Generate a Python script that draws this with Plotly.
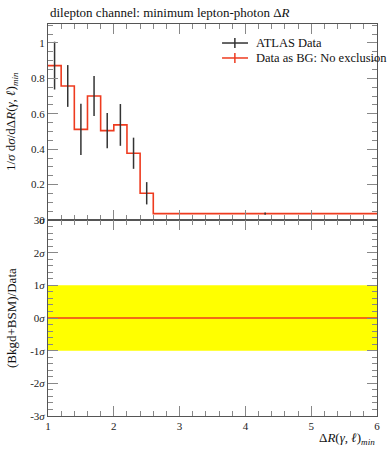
import plotly.graph_objects as go
from plotly.subplots import make_subplots

# ---- data ----
bin_edges = [1.0, 1.2, 1.4, 1.6, 1.8, 2.0, 2.2, 2.4, 2.6, 6.0]
data_vals = [0.872, 0.757, 0.512, 0.700, 0.505, 0.537, 0.377, 0.151, 0.036]
data_errs = [0.135, 0.118, 0.145, 0.113, 0.100, 0.118, 0.088, 0.063, 0.006]
bg_vals = [0.872, 0.757, 0.512, 0.700, 0.505, 0.537, 0.377, 0.151, 0.036]
band_x = [1.0, 6.0]
band_hi = [1.0, 1.0]
band_lo = [-1.0, -1.0]
ratio_vals = [0.0, 0.0]
sigma_ticks = [-3, -2, -1, 0, 1, 2, 3]
sigma_labels = ["-3<i>σ</i>", "-2<i>σ</i>", "-1<i>σ</i>", "0<i>σ</i>", "1<i>σ</i>", "2<i>σ</i>", "3<i>σ</i>"]
main_ticks = [0, 0.2, 0.4, 0.6, 0.8, 1.0]
main_labels = ["0", "0.2", "0.4", "0.6", "0.8", "1"]
x_ticks = [1, 2, 3, 4, 5, 6]
legend_names = ["ATLAS Data", "Data as BG: No exclusion"]

centers = [(bin_edges[i] + bin_edges[i + 1]) / 2 for i in range(len(data_vals))]
step_x = []
step_y = []
for i, v in enumerate(bg_vals):
    step_x += [bin_edges[i], bin_edges[i + 1]]
    step_y += [v, v]

RED = "#EE3B1F"
DARK = "#333333"
FONT = "Liberation Serif"

fig = make_subplots(rows=2, cols=1, shared_xaxes=True, vertical_spacing=0)

# histogram (red)
fig.add_trace(go.Scatter(x=step_x, y=step_y, mode="lines", name=legend_names[1],
                         line=dict(color=RED, width=1.6), showlegend=False,
                         hoverinfo="skip"), row=1, col=1)
# data points (black)
fig.add_trace(go.Scatter(x=centers, y=data_vals, mode="markers", name=legend_names[0],
                         marker=dict(size=1, color=DARK, opacity=0),
                         error_y=dict(type="data", array=data_errs, color=DARK,
                                      thickness=1.5, width=0),
                         showlegend=False), row=1, col=1)

# ratio panel band
fig.add_trace(go.Scatter(x=band_x, y=band_lo, mode="lines", line=dict(width=0, color="#FFFF00"),
                         showlegend=False, hoverinfo="skip"), row=2, col=1)
fig.add_trace(go.Scatter(x=band_x, y=band_hi, mode="lines", line=dict(width=0, color="#FFFF00"),
                         fill="tonexty", fillcolor="#FFFF00",
                         showlegend=False, hoverinfo="skip"), row=2, col=1)
fig.add_trace(go.Scatter(x=band_x, y=ratio_vals, mode="lines",
                         line=dict(color=RED, width=1.6), showlegend=False,
                         hoverinfo="skip"), row=2, col=1)

axis_common = dict(showgrid=False, zeroline=False, showline=True, linecolor="#555555",
                   linewidth=1, mirror="allticks", ticks="inside", tickcolor="#888888",
                   tickfont=dict(family=FONT, size=11, color="#222222"))

fig.update_xaxes(**axis_common, range=[1, 6], tickvals=x_ticks, ticklen=10,
                 minor=dict(dtick=0.2, ticklen=5, ticks="inside", tickcolor="#888888"))
fig.update_xaxes(showticklabels=False, row=1, col=1)
fig.update_yaxes(**axis_common, row=1, col=1, range=[0, 1.107], tickvals=main_ticks,
                 ticktext=main_labels, ticklen=10,
                 minor=dict(dtick=0.05, ticklen=5, ticks="inside", tickcolor="#888888"))
fig.update_yaxes(**axis_common, row=2, col=1, range=[-3, 3], tickvals=sigma_ticks,
                 ticktext=sigma_labels, ticklen=10,
                 minor=dict(dtick=0.2, ticklen=5, ticks="inside", tickcolor="#888888"))

# manual legend (paper coords)
leg_rows = [0.9515, 0.9133]
leg_colors = [DARK, RED]
leg_x0, leg_x1, leg_xt, leg_xtext = 0.529, 0.608, 0.568, 0.626
shapes = []
annotations = []
for yy, col, name in zip(leg_rows, leg_colors, legend_names):
    shapes.append(dict(type="line", xref="paper", yref="paper", x0=leg_x0, x1=leg_x1,
                       y0=yy, y1=yy, line=dict(color=col, width=1.5)))
    shapes.append(dict(type="line", xref="paper", yref="paper", x0=leg_xt, x1=leg_xt,
                       y0=yy - 0.013, y1=yy + 0.013, line=dict(color=col, width=1.5)))
    annotations.append(dict(text=name, xref="paper", yref="paper", x=leg_xtext, y=yy,
                            xanchor="left", yanchor="middle", showarrow=False,
                            font=dict(family=FONT, size=12.5, color="#111111")))

annotations += [
    dict(text="dilepton channel: minimum lepton-photon Δ<i>R</i>", xref="paper", yref="paper",
         x=0, y=1, xanchor="left", yanchor="bottom", yshift=2, showarrow=False,
         font=dict(family=FONT, size=13)),
    dict(text="1/<i>σ</i> d<i>σ</i>/dΔ<i>R</i>(<i>γ</i>, <i>ℓ</i>)<sub><i>min</i></sub>",
         xref="paper", yref="paper", x=0, y=0.75, xanchor="center", yanchor="middle",
         xshift=-37, textangle=-90, showarrow=False, font=dict(family=FONT, size=13)),
    dict(text="(Bkgd+BSM)/Data", xref="paper", yref="paper", x=0, y=0.25,
         xanchor="center", yanchor="middle", xshift=-37, textangle=-90,
         showarrow=False, font=dict(family=FONT, size=13)),
    dict(text="Δ<i>R</i>(<i>γ</i>, <i>ℓ</i>)<sub><i>min</i></sub>", xref="paper", yref="paper",
         x=1, y=0, xanchor="right", yanchor="top", yshift=-12, showarrow=False,
         font=dict(family=FONT, size=13)),
]

fig.update_layout(
    width=389, height=450,
    margin=dict(l=48, r=12, t=24, b=34, autoexpand=False),
    paper_bgcolor="white", plot_bgcolor="white",
    font=dict(family=FONT, size=12, color="#111111"),
    showlegend=False,
    shapes=shapes,
    annotations=annotations,
)

fig.write_html("out.html", config={"displayModeBar": False},
               post_script="document.body.style.margin='0';document.body.style.overflow='hidden';")
